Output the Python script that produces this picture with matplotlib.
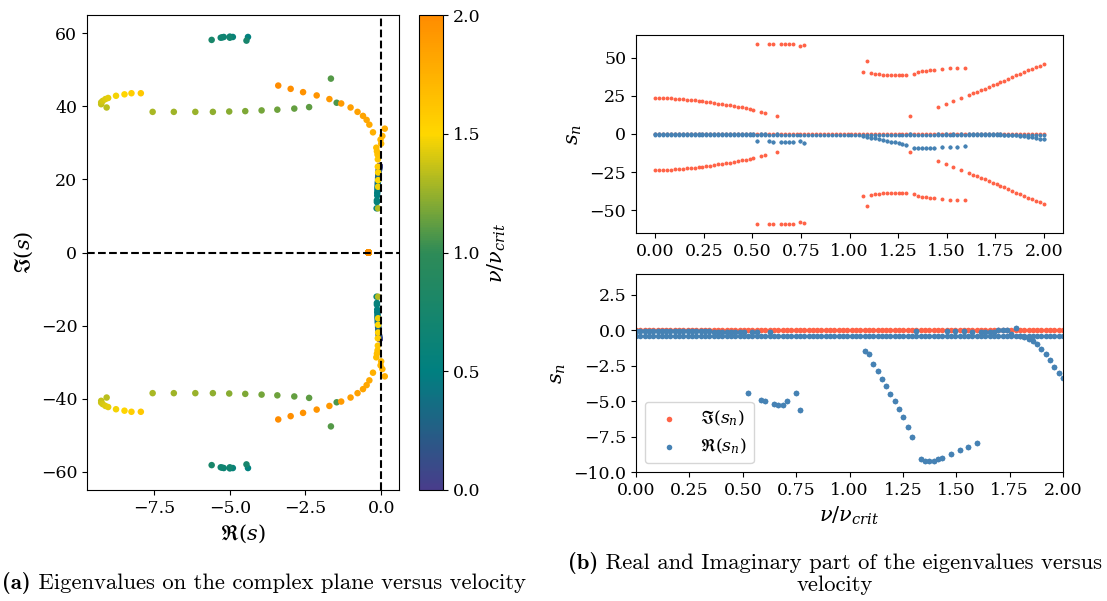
import numpy as np
import matplotlib
matplotlib.use("Agg")
import matplotlib.pyplot as plt
from matplotlib.colors import LinearSegmentedColormap

plt.rcParams['font.family'] = 'DejaVu Serif'
plt.rcParams['mathtext.fontset'] = 'dejavuserif'
plt.rcParams['xtick.labelsize'] = 12.5
plt.rcParams['ytick.labelsize'] = 12.5

# velocity grid v/v_crit
v_grid = np.linspace(0, 2, 100)

# real eigenvalue present at every velocity
real_root = -0.42

# complex pair starting at +-23j (decays towards zero)
idx_b = list(range(0, 26)) + [27, 28, 31]
re_b = [-0.05, -0.05, -0.05, -0.06, -0.06, -0.06, -0.07, -0.07, -0.07, -0.08,
        -0.08, -0.08, -0.09, -0.09, -0.09, -0.10, -0.10, -0.10, -0.11, -0.11,
        -0.11, -0.12, -0.12, -0.12, -0.13, -0.13, -0.14, -0.14, -0.15]
im_b = [23.7, 23.7, 23.6, 23.5, 23.4, 23.2, 23.0, 22.8, 22.6, 22.4,
        22.1, 21.8, 21.5, 21.1, 20.7, 20.4, 20.0, 19.6, 19.2, 18.8,
        18.4, 17.9, 17.4, 16.9, 16.3, 15.6, 14.3, 13.8, 12.1]

# pair near +-59j
idx_e = [26, 29, 30, 32, 33, 34, 35, 37, 38]
re_e = [-4.4, -4.9, -5.0, -5.2, -5.25, -5.3, -5.0, -4.45, -5.6]
im_e = [59.0, 59.0, 59.1, 59.0, 58.9, 58.8, 58.8, 58.0, 58.2]

# pair near +-40j (strongly damped)
idx_d = list(range(53, 65)) + list(range(66, 72)) + [73, 75, 77, 79]
re_d = [-1.47, -1.66, -2.38, -2.87, -3.43, -3.95, -4.49, -5.02, -5.56, -6.14,
        -6.85, -7.55, -9.07, -9.25, -9.25, -9.2, -9.11, -9.02, -8.76, -8.48,
        -8.25, -7.94]
im_d = [41.0, 47.6, 39.8, 39.4, 39.1, 38.9, 38.7, 38.6, 38.5, 38.5,
        38.5, 38.5, 39.7, 40.6, 41.1, 41.5, 42.0, 42.3, 42.9, 43.3,
        43.6, 43.6]

# isolated pair at +-12j
idx_f = [65]
re_f = [-0.10]
im_f = [12.1]

# pair growing from +-18j to +-46j
idx_c = [72, 74, 76, 78] + list(range(80, 100))
re_c = [-0.10, -0.10, -0.10, -0.11, -0.11, -0.12, -0.14, -0.16, 0.00, -0.02,
        0.04, -0.27, 0.12, -0.39, -0.48, -0.60, -0.78, -1.01, -1.32, -1.71,
        -2.13, -2.58, -2.99, -3.40]
im_c = [18.0, 19.8, 21.9, 23.5, 25.5, 26.8, 27.7, 28.7, 29.8, 30.9,
        31.9, 32.9, 33.9, 35.0, 36.3, 37.4, 38.5, 39.7, 40.8, 42.0,
        43.0, 43.9, 44.8, 45.7]

pairs = [(idx_b, re_b, im_b), (idx_e, re_e, im_e), (idx_d, re_d, im_d),
         (idx_f, re_f, im_f), (idx_c, re_c, im_c)]

# collect eigenvalues: (v, re, im)
pts_v, pts_re, pts_im = [], [], []
for k in range(len(v_grid)):
    pts_v.append(v_grid[k]); pts_re.append(real_root); pts_im.append(0.0)
for idx, re, im in pairs:
    for k, r, i in zip(idx, re, im):
        for sgn in (1, -1):
            pts_v.append(v_grid[k]); pts_re.append(r); pts_im.append(sgn * i)
pts_v = np.array(pts_v); pts_re = np.array(pts_re); pts_im = np.array(pts_im)
order = np.argsort(pts_v, kind='stable')
pts_v, pts_re, pts_im = pts_v[order], pts_re[order], pts_im[order]

cmap = LinearSegmentedColormap.from_list(
    'vel', ['darkslateblue', 'teal', 'seagreen', 'gold', 'darkorange'])

fig = plt.figure(figsize=(11.07, 6.01), dpi=100)
ax1 = fig.add_axes([0.0786, 0.1847, 0.2818, 0.7903])
cax = fig.add_axes([0.3785, 0.1847, 0.0217, 0.7903])
ax2 = fig.add_axes([0.5745, 0.6123, 0.3858, 0.3295])
ax3 = fig.add_axes([0.5745, 0.2146, 0.3858, 0.3295])

sc = ax1.scatter(pts_re, pts_im, c=pts_v, cmap=cmap, vmin=0, vmax=2, s=22,
                 linewidths=0, zorder=2)
ax1.axhline(0, color='k', ls='--', lw=1.5, zorder=3)
ax1.axvline(0, color='k', ls='--', lw=1.5, zorder=3)
ax1.set_xticks([-7.5, -5.0, -2.5, 0.0])
ax1.set_xlabel(r'$\Re(s)$', fontsize=15)
ax1.set_ylabel(r'$\Im(s)$', fontsize=15)
cb = fig.colorbar(sc, cax=cax, ticks=[0.0, 0.5, 1.0, 1.5, 2.0])
cb.set_label(r'$\nu/\nu_{crit}$', fontsize=15)

for ax, size in ((ax2, 8), (ax3, 16)):
    ax.scatter(pts_v, pts_im, s=size, color='tomato', linewidths=0,
               label=r'$\Im(s_n)$')
    ax.scatter(pts_v, pts_re, s=size, color='steelblue', linewidths=0,
               label=r'$\Re(s_n)$')
    ax.set_ylabel(r'$s_n$', fontsize=15)
    ax.set_xticks([0.0, 0.25, 0.5, 0.75, 1.0, 1.25, 1.5, 1.75, 2.0])
    ax.xaxis.set_major_formatter('{x:.2f}')

ax2.set_yticks([-50, -25, 0, 25, 50])
ax3.set_xlim(0, 2)
ax3.set_ylim(-10, 3.95)
ax3.set_yticks([-10.0, -7.5, -5.0, -2.5, 0.0, 2.5])
ax3.yaxis.set_major_formatter('{x:.1f}')
ax3.set_xlabel(r'$\nu/\nu_{crit}$', fontsize=15)
ax3.legend(loc='lower left', fontsize=12.5, markerscale=1.0)


def caption(lab, txt, y, x=None, xc=None, fs=16.3):
    t1 = fig.text(0, y, lab, family='cmb10', fontsize=fs, va='center')
    t2 = fig.text(0, y, ' ' + txt, family='cmr10', fontsize=fs, va='center')
    fig.canvas.draw()
    r = fig.canvas.get_renderer()
    w1 = t1.get_window_extent(r).width / fig.bbox.width
    w2 = t2.get_window_extent(r).width / fig.bbox.width
    if x is None:
        x = xc - (w1 + w2) / 2
    t1.set_x(x)
    t2.set_x(x + w1)


caption('(a)', 'Eigenvalues on the complex plane versus velocity', 0.030, x=0.002)
caption('(b)', 'Real and Imaginary part of the eigenvalues versus', 0.063,
        xc=835 / 1107)
fig.text(835 / 1107, 0.027, 'velocity', family='cmr10', fontsize=16.3,
         ha='center', va='center')

fig.savefig('out.png', dpi=100)
